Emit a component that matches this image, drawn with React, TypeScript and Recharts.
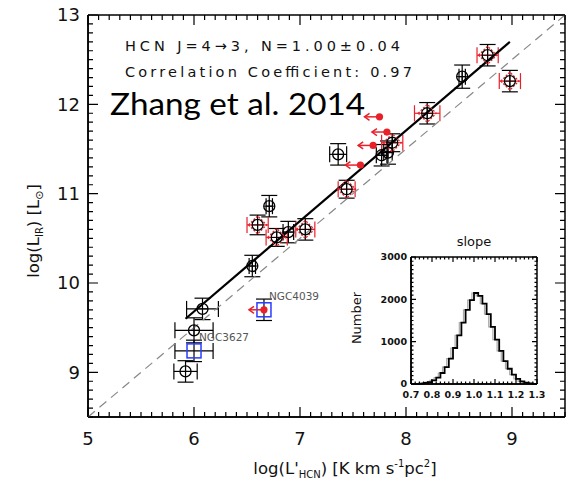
import React from 'react';
import {
  ComposedChart, Scatter, XAxis, YAxis, ErrorBar, Line,
} from 'recharts';

// main panel data: x = log L'HCN, y = log L_IR, ex/ey = errors
const blackCircles = [
  { x: 8.53, y: 12.31, ex: 0.03, ey: 0.13 },
  { x: 7.83, y: 11.46, ex: 0.04, ey: 0.13 },
  { x: 7.77, y: 11.43, ex: 0.05, ey: 0.12 },
  { x: 7.36, y: 11.44, ex: 0.08, ey: 0.12 },
  { x: 6.71, y: 10.86, ex: 0.03, ey: 0.12 },
  { x: 6.89, y: 10.57, ex: 0.05, ey: 0.12 },
  { x: 6.55, y: 10.19, ex: 0.03, ey: 0.12 },
  { x: 6.08, y: 9.71, ex: 0.15, ey: 0.12 },
  { x: 6.0, y: 9.47, ex: 0.18, ey: 0.14 },
  { x: 5.92, y: 9.01, ex: 0.11, ey: 0.12 },
];

const redDiamonds = [
  { x: 8.77, y: 12.55, ex: 0.1, ey: 0.12 },
  { x: 8.98, y: 12.26, ex: 0.1, ey: 0.12 },
  { x: 8.2, y: 11.9, ex: 0.12, ey: 0.12 },
  { x: 7.87, y: 11.57, ex: 0.1, ey: 0.1 },
  { x: 7.44, y: 11.05, ex: 0.08, ey: 0.1 },
  { x: 6.6, y: 10.65, ex: 0.1, ey: 0.11 },
  { x: 6.78, y: 10.51, ex: 0.1, ey: 0.1 },
  { x: 7.05, y: 10.6, ex: 0.09, ey: 0.12 },
];

const upperLimits = [
  { x: 7.75, y: 11.86 },
  { x: 7.82, y: 11.69 },
  { x: 7.69, y: 11.54 },
  { x: 7.57, y: 11.32 },
];

const ngc3627 = [{ x: 6.0, y: 9.24, ex: 0.18, ey: 0.12, name: 'NGC3627' }];
const ngc4039 = [{ x: 6.66, y: 9.7, ex: 0, ey: 0.12, name: 'NGC4039' }];

const fitLine = [{ x: 5.92, y: 9.6 }, { x: 8.98, y: 12.7 }];
const oneToOne = [{ x: 5, y: 8.5 }, { x: 9.5, y: 13 }];

// inset histogram of fitted slopes
const slopeBins = [0.7, 0.72, 0.74, 0.76, 0.78, 0.8, 0.82, 0.84, 0.86, 0.88, 0.9, 0.92, 0.94, 0.96, 0.98,
  1.0, 1.02, 1.04, 1.06, 1.08, 1.1, 1.12, 1.14, 1.16, 1.18, 1.2, 1.22, 1.24, 1.26, 1.28, 1.3];
const slopeCounts = [0, 3, 10, 25, 45, 85, 150, 260, 400, 600, 850, 1150, 1450, 1750, 1980,
  2150, 2080, 1900, 1650, 1350, 1050, 780, 540, 360, 220, 120, 60, 30, 12, 4, 0];

const xMajor = [5, 6, 7, 8, 9];
const yMajor = [9, 10, 11, 12, 13];
const histXMajor = [0.7, 0.8, 0.9, 1.0, 1.1, 1.2, 1.3];
const histYMajor = [0, 1000, 2000, 3000];

const FONT = '"DejaVu Sans", sans-serif';
const THIN = 0.01; // axes have to be > 0 px to be drawn at all

// plot boxes in page pixels; the chart margins are derived from these
const W = 575;
const H = 482;
const MAIN = { left: 88, top: 15, right: 565, bottom: 417 };
const INSET_POS = { left: 335, top: 230, width: 210, height: 175 };
const INSET = { left: 411, top: 257, right: 537, bottom: 384 };

const MAIN_X: [number, number] = [5, 9.5];
const MAIN_Y: [number, number] = [8.5, 13];
const HIST_X: [number, number] = [0.7, 1.3];
const HIST_Y: [number, number] = [0, 3000];

const steps = (from: number, to: number, step: number) => {
  const out: number[] = [];
  const n = Math.round((to - from) / step);
  for (let i = 0; i <= n; i++) out.push(Math.round((from + i * step) * 1000) / 1000);
  return out;
};

const isIn = (v: number, list: number[]) => list.some((m) => Math.abs(m - v) < 1e-6);

const xMinor = steps(5, 9.5, 0.1);
const yMinor = steps(8.5, 13, 0.1);
const histXMinor = steps(0.7, 1.3, 0.02);
const histYMinor = steps(0, 3000, 100);

const histData = slopeBins.map((x, i) => ({ x, n: slopeCounts[i] }));

const al = { stroke: '#000', strokeWidth: 1.5 };

const labelTick = (side: 'bottom' | 'left', fs: number, bold: boolean, off: number, fmt?: (v: number) => string) =>
  (p: any) => {
    const v = p.payload.value;
    const s = fmt ? fmt(v) : String(v);
    if (side === 'bottom') {
      return <text x={p.x} y={p.y + off} textAnchor="middle" fontSize={fs} fontWeight={bold ? 700 : 400} fontFamily={FONT} fill="#111">{s}</text>;
    }
    return <text x={p.x - off} y={p.y + fs * 0.36} textAnchor="end" fontSize={fs} fontWeight={bold ? 700 : 400} fontFamily={FONT} fill="#111">{s}</text>;
  };

const NoShape = () => <g />;

// frame: labelled bottom/left axes, plain top/right lines
const frame = (dom: [number, number], xMaj: number[], yDom: [number, number], yMaj: number[], xLab: any, yLab: any) => {
  const corners = [{ x: dom[0], y: yDom[0] }, { x: dom[1], y: yDom[1] }];
  return [
    <XAxis key="xl" xAxisId="xlab" dataKey="x" type="number" domain={dom} ticks={xMaj} interval={0} height={THIN}
      axisLine={al} tickLine={false} tickSize={0} tickMargin={0} tick={xLab} />,
    <XAxis key="tp" xAxisId="top" orientation="top" dataKey="x" type="number" domain={dom} ticks={xMaj} interval={0} height={THIN}
      axisLine={al} tickLine={false} tick={false} />,
    <YAxis key="yl" yAxisId="ylab" dataKey="y" type="number" domain={yDom} ticks={yMaj} interval={0} width={THIN}
      axisLine={al} tickLine={false} tickSize={0} tickMargin={0} tick={yLab} />,
    <YAxis key="rt" yAxisId="right" orientation="right" dataKey="y" type="number" domain={yDom} ticks={yMaj} interval={0} width={THIN}
      axisLine={al} tickLine={false} tick={false} />,
    <Scatter key="c0" data={corners} xAxisId="xlab" yAxisId="ylab" shape={NoShape} isAnimationActive={false} />,
    <Scatter key="c1" data={corners} xAxisId="top" yAxisId="right" shape={NoShape} isAnimationActive={false} />,
  ];
};

// inward IDL-style tick marks on all four sides of a plot box
const FrameTicks = ({ box, xd, yd, xMaj, xMin, yMaj, yMin, big, small }: any) => {
  const sx = (v: number) => box.left + ((v - xd[0]) / (xd[1] - xd[0])) * (box.right - box.left);
  const sy = (v: number) => box.bottom - ((v - yd[0]) / (yd[1] - yd[0])) * (box.bottom - box.top);
  let d = '';
  xMin.forEach((v: number) => {
    const len = isIn(v, xMaj) ? big : small;
    const x = sx(v);
    d += `M${x},${box.bottom}V${box.bottom - len}M${x},${box.top}V${box.top + len}`;
  });
  yMin.forEach((v: number) => {
    const len = isIn(v, yMaj) ? big : small;
    const y = sy(v);
    d += `M${box.left},${y}H${box.left + len}M${box.right},${y}H${box.right - len}`;
  });
  return <path d={d} stroke="#000" strokeWidth={1.2} fill="none" />;
};

const CircleShape = (p: any) => (
  <g>
    <circle cx={p.cx} cy={p.cy} r={5.5} fill="none" stroke="#000" strokeWidth={1.3} />
    <path d={`M${p.cx - 5.5},${p.cy}H${p.cx + 5.5}M${p.cx},${p.cy - 5.5}V${p.cy + 5.5}`} stroke="#000" strokeWidth={1} />
  </g>
);

const DiamondShape = (p: any) => {
  const d = 9;
  const pts = `${p.cx - d},${p.cy} ${p.cx},${p.cy - d} ${p.cx + d},${p.cy} ${p.cx},${p.cy + d}`;
  return (
    <g>
      <polygon points={pts} fill="none" stroke="#e8202a" strokeWidth={1.3} strokeDasharray="2 1.5" />
      <circle cx={p.cx} cy={p.cy} r={5.5} fill="none" stroke="#000" strokeWidth={1.3} />
      <path d={`M${p.cx - 5.5},${p.cy}H${p.cx + 5.5}M${p.cx},${p.cy - 5.5}V${p.cy + 5.5}`} stroke="#000" strokeWidth={1} />
    </g>
  );
};

const Arrow = ({ cx, cy }: { cx: number; cy: number }) => (
  <g>
    <line x1={cx} x2={cx - 15} y1={cy} y2={cy} stroke="#e8202a" strokeWidth={1.5} />
    <polyline points={`${cx - 10},${cy - 3.5} ${cx - 15},${cy} ${cx - 10},${cy + 3.5}`} fill="none" stroke="#e8202a" strokeWidth={1.5} />
    <circle cx={cx} cy={cy} r={3.6} fill="#e8202a" />
  </g>
);

const LimitShape = (p: any) => <Arrow cx={p.cx} cy={p.cy} />;

const SquareShape = (limit: boolean) => (p: any) => (
  <g>
    <rect x={p.cx - 7} y={p.cy - 7} width={14} height={14} fill="none" stroke="#2a3cff" strokeWidth={1.5} />
    {limit && <Arrow cx={p.cx} cy={p.cy} />}
    <text x={p.cx + 5} y={p.cy - 10} fontSize={10.5} fontFamily={FONT} fill="#555">{p.payload.name}</text>
  </g>
);

const MainChart = () => (
  <ComposedChart width={W} height={H}
    margin={{ top: MAIN.top, right: W - MAIN.right, bottom: H - MAIN.bottom, left: MAIN.left }}>
    <XAxis dataKey="x" type="number" domain={MAIN_X} height={THIN} tick={false} tickLine={false} axisLine={al} />
    <YAxis dataKey="y" type="number" domain={MAIN_Y} width={THIN} tick={false} tickLine={false} axisLine={al} />

    <Scatter data={oneToOne} line={{ stroke: '#888', strokeWidth: 1.2, strokeDasharray: '9 6' }} shape={NoShape} isAnimationActive={false} />
    <Scatter data={fitLine} line={{ stroke: '#000', strokeWidth: 2.2 }} shape={NoShape} isAnimationActive={false} />

    <Scatter data={blackCircles} shape={CircleShape} isAnimationActive={false}>
      <ErrorBar dataKey="ey" direction="y" width={8} stroke="#000" strokeWidth={1.2} />
      <ErrorBar dataKey="ex" direction="x" width={8} stroke="#000" strokeWidth={1.2} />
    </Scatter>
    <Scatter data={redDiamonds} shape={DiamondShape} isAnimationActive={false}>
      <ErrorBar dataKey="ey" direction="y" width={8} stroke="#000" strokeWidth={1.2} />
      <ErrorBar dataKey="ex" direction="x" width={8} stroke="#e8202a" strokeWidth={1.2} />
    </Scatter>
    <Scatter data={ngc3627} shape={SquareShape(false)} isAnimationActive={false}>
      <ErrorBar dataKey="ey" direction="y" width={8} stroke="#000" strokeWidth={1.2} />
      <ErrorBar dataKey="ex" direction="x" width={8} stroke="#000" strokeWidth={1.2} />
    </Scatter>
    <Scatter data={ngc4039} shape={SquareShape(true)} isAnimationActive={false}>
      <ErrorBar dataKey="ey" direction="y" width={8} stroke="#000" strokeWidth={1.2} />
    </Scatter>
    <Scatter data={upperLimits} shape={LimitShape} isAnimationActive={false} />

    {frame(MAIN_X, xMajor, MAIN_Y, yMajor, labelTick('bottom', 18, false, 28), labelTick('left', 18, false, 8))}
  </ComposedChart>
);

const fmtHist = (v: number) => v.toFixed(1);

const InsetChart = () => (
  <ComposedChart width={INSET_POS.width} height={INSET_POS.height} data={histData}
    margin={{
      top: INSET.top - INSET_POS.top,
      right: INSET_POS.left + INSET_POS.width - INSET.right,
      bottom: INSET_POS.top + INSET_POS.height - INSET.bottom,
      left: INSET.left - INSET_POS.left,
    }}>
    <XAxis dataKey="x" type="number" domain={HIST_X} height={THIN} tick={false} tickLine={false} axisLine={al} />
    <YAxis type="number" domain={HIST_Y} width={THIN} tick={false} tickLine={false} axisLine={al} />

    <Line dataKey="n" type="step" stroke="#aaa" strokeWidth={1.2} dot={false} isAnimationActive={false} />
    <Line dataKey="n" type="stepAfter" stroke="#000" strokeWidth={1.8} dot={false} isAnimationActive={false} />

    {frame(HIST_X, histXMajor, HIST_Y, histYMajor, labelTick('bottom', 9.5, true, 14, fmtHist), labelTick('left', 9.5, true, 4))}
  </ComposedChart>
);

const Annotations = () => (
  <svg width={W} height={H} style={{ position: 'absolute', left: 0, top: 0, pointerEvents: 'none' }}>
    <FrameTicks box={MAIN} xd={MAIN_X} yd={MAIN_Y} xMaj={xMajor} xMin={xMinor} yMaj={yMajor} yMin={yMinor} big={10} small={5} />
    <FrameTicks box={INSET} xd={HIST_X} yd={HIST_Y} xMaj={histXMajor} xMin={histXMinor} yMaj={histYMajor} yMin={histYMinor} big={5} small={2.5} />

    <text x={125} y={51} fontSize={14.5} fontFamily={FONT} fill="#111" textLength={275} lengthAdjust="spacing">
      HCN J=4→3, N=1.00±0.04
    </text>
    <text x={125} y={77} fontSize={14.5} fontFamily={FONT} fill="#111" textLength={287} lengthAdjust="spacing">
      Correlation Coefficient: 0.97
    </text>
    <text x={110} y={115} fontSize={30} fontFamily='Lato, "Open Sans", sans-serif' fill="#000" textLength={255} lengthAdjust="spacingAndGlyphs">
      Zhang et al. 2014
    </text>

    <text x={345} y={474} textAnchor="middle" fontSize={16.5} fontFamily={FONT} fill="#111">
      log(L'<tspan fontSize={10} dy={4}>HCN</tspan><tspan dy={-4}>) [K km s</tspan>
      <tspan fontSize={10} dy={-7}>-1</tspan><tspan dy={7}>pc</tspan>
      <tspan fontSize={10} dy={-7}>2</tspan><tspan dy={7}>]</tspan>
    </text>
    <text transform="translate(39,231) rotate(-90)" textAnchor="middle" fontSize={16.5} fontFamily={FONT} fill="#111">
      log(L<tspan fontSize={10} dy={4}>IR</tspan><tspan dy={-4}>) [L</tspan>
      <tspan fontSize={11} dy={4}>⊙</tspan><tspan dy={-4}>]</tspan>
    </text>

    <text x={474} y={246} textAnchor="middle" fontSize={13} fontFamily={FONT} fill="#111">slope</text>
    <text transform="translate(361,318) rotate(-90)" textAnchor="middle" fontSize={13} fontFamily={FONT} fill="#111">Number</text>
  </svg>
);

export default function App() {
  return (
    <div style={{ position: 'absolute', left: 0, top: 0, width: W, height: H, background: '#fff' }}>
      <MainChart />
      <div style={{ position: 'absolute', left: INSET_POS.left, top: INSET_POS.top }}>
        <InsetChart />
      </div>
      <Annotations />
    </div>
  );
}
